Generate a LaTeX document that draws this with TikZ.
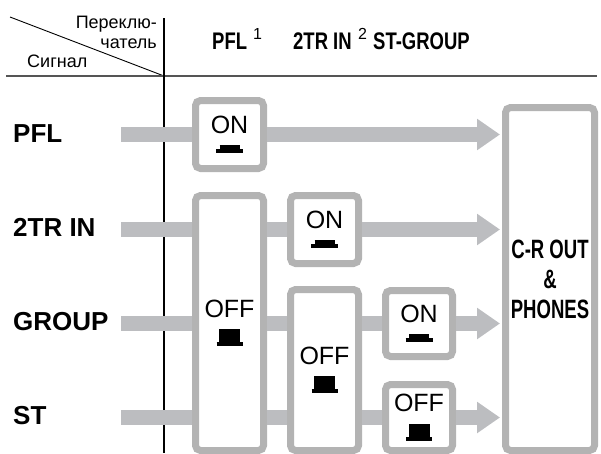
\documentclass[tikz,border=0pt]{standalone}
\usepackage{fontspec}
\newfontfamily\arialf{Liberation Sans}
\newfontfamily\narrowf[FakeStretch=0.77]{Liberation Sans}
\newfontfamily\narrowerf[FakeStretch=0.7]{Liberation Sans}
\usetikzlibrary{arrows.meta}
\definecolor{boxgray}{RGB}{179,179,179}
\definecolor{bargray}{RGB}{188,189,192}
\definecolor{linegray}{RGB}{85,85,85}

% push buttons: pressed / released
\newcommand{\keyon}{\lower7.5pt\hbox{\vbox{\offinterlineskip
  \hbox to 27pt{\hss\rule{20pt}{4pt}\hss}\hbox{\rule{27pt}{3.5pt}}}}}
\newcommand{\keyoff}{\lower17pt\hbox{\vbox{\offinterlineskip
  \hbox to 26pt{\hss\rule{21pt}{13pt}\hss}\hbox{\rule{26pt}{4pt}}}}}

\tikzset{
  swbox/.style={draw=boxgray,line width=7pt,fill=white,rounded corners=5pt,
    inner sep=0pt,align=center,minimum width=68pt,
    font=\arialf\fontsize{25}{12}\selectfont},
  bar/.style={draw=bargray,line width=15pt},
  barto/.style={bar,shorten >=2pt,-{Triangle[length=23pt,width=30pt]}},
  rowlbl/.style={anchor=base west,inner sep=0pt,
    font=\arialf\bfseries\fontsize{26}{30}\selectfont},
  hdr/.style={anchor=base west,inner sep=0pt,
    font=\narrowf\bfseries\fontsize{24}{28}\selectfont},
  supnum/.style={anchor=base west,inner sep=0pt,
    font=\arialf\fontsize{16}{18}\selectfont},
  cyr/.style={inner sep=0pt,font=\arialf\fontsize{18}{20}\selectfont}
}

\begin{document}
\begin{tikzpicture}[x=1pt,y=-1pt]
\useasboundingbox (0,0) rectangle (601,453);

%table head
\node[cyr,anchor=base east] (sw1) at (157,28) {Переклю-};
\node[cyr,anchor=base east] (sw2) at (157,48) {чатель};
\node[cyr,anchor=base west] (sig) at (27,67) {Сигнал};
\coordinate (corner) at (164,76);
\draw[line width=0.9pt] (10,17) -- (corner);
\draw[linegray,line width=2pt] (6,76) -- (597,76);
\draw[line width=1.1pt] (164,18) -- (164,453);

\node[hdr] (hpfl) at (212,49) {PFL};
\node[supnum] (hone) at (253,39) {1};
\node[hdr] (htr) at (293,49) {2TR IN};
\node[supnum] (htwo) at (358,39) {2};
\node[hdr] (hgrp) at (373,49) {ST-GROUP};

%signals
\node[rowlbl] (lpfl) at (13,142) {PFL};
\node[rowlbl] (ltr) at (13,236) {2TR IN};
\node[rowlbl] (lgrp) at (13,330) {GROUP};
\node[rowlbl] (lst) at (13,424) {ST};
\coordinate (ipfl) at (121,134.5);
\coordinate (itr) at (121,229.5);
\coordinate (igrp) at (121,323.5);
\coordinate (ist) at (121,417.5);

%switches
\node[swbox,minimum height=68pt] (swpfl) at (229.5,134.5) {ON\\\keyon};
\node[swbox,minimum height=255pt] (swa) at (229.5,323) {OFF\\\keyoff};
\node[swbox,minimum height=68pt] (swtr) at (324.5,229.5) {ON\\\keyon};
\node[swbox,minimum height=161pt] (swb) at (324.5,370) {OFF\\\keyoff};
\node[swbox,minimum width=67pt,minimum height=66pt] (swgrp) at (419,323.5) {ON\\\keyon};
\node[swbox,minimum width=67pt,minimum height=66pt] (swst) at (419,417.5) {OFF\\\keyoff};

%output
\node[swbox,minimum width=89pt,minimum height=343pt,
  font=\narrowerf\bfseries\fontsize{26.5}{30}\selectfont] (crout) at (550,279)
  {C-R OUT\\\&\\PHONES};

%signal paths
\draw[bar] (ipfl) -- (swpfl);
\draw[barto] (swpfl) -- (crout.west |- swpfl);

\draw[bar] (itr) -- (swa.west |- itr);
\draw[bar] (swa.east |- itr) -- (swtr);
\draw[barto] (swtr) -- (crout.west |- swtr);

\draw[bar] (igrp) -- (swa.west |- igrp);
\draw[bar] (swa.east |- igrp) -- (swb.west |- igrp);
\draw[bar] (swb.east |- igrp) -- (swgrp);
\draw[barto] (swgrp) -- (crout.west |- swgrp);

\draw[bar] (ist) -- (swa.west |- ist);
\draw[bar] (swa.east |- ist) -- (swb.west |- ist);
\draw[bar] (swb.east |- ist) -- (swst);
\draw[barto] (swst) -- (crout.west |- swst);
\end{tikzpicture}
\end{document}
